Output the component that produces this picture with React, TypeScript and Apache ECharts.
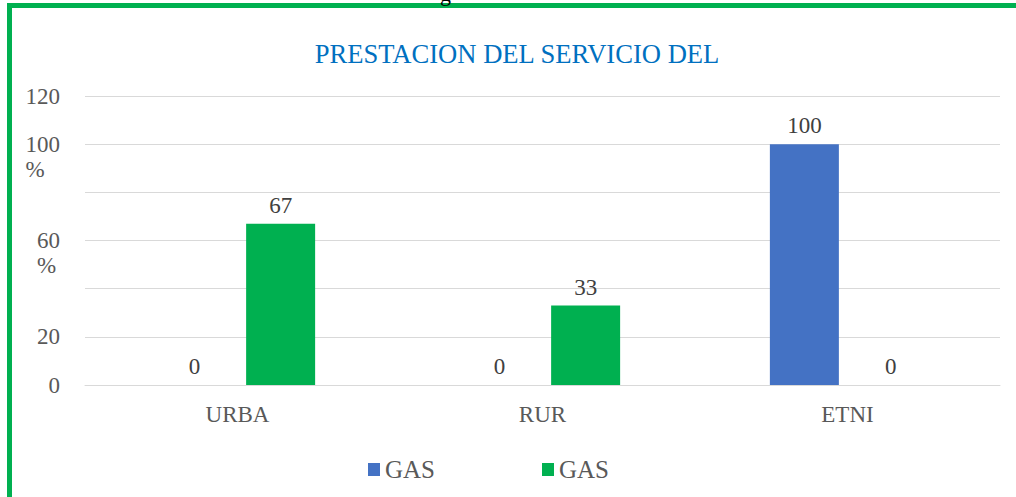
import React, { useEffect, useRef } from "react";
import * as echarts from "echarts";

const categories = ["URBA", "RUR", "ETNI"];
const blueSeriesName = "GAS";
const greenSeriesName = "GAS";
const blueValues = [0, 0, 100];
const greenValues = [67, 33, 0];
const yTickLabels: Record<number, string> = {
  120: "120",
  100: "100\n%",
  80: "",
  60: "60\n%",
  40: "",
  20: "20",
  0: "0",
};
const titleText = "PRESTACION DEL SERVICIO DEL";

const FONT = "Liberation Serif, serif";

export default function App() {
  const ref = useRef<HTMLDivElement>(null);
  useEffect(() => {
    if (!ref.current) return;
    const chart = echarts.init(ref.current, undefined, { renderer: "svg" });
    const legendNames: Record<string, string> = {
      s1: blueSeriesName,
      s2: greenSeriesName,
    };
    chart.setOption({
      animation: false,
      backgroundColor: "#ffffff",
      title: {
        text: titleText,
        left: 512,
        top: 35,
        textAlign: "center",
        textStyle: {
          fontFamily: FONT,
          fontSize: 26.6,
          fontWeight: "normal",
          color: "#0070C0",
        },
      },
      legend: {
        left: 363,
        top: 452,
        itemWidth: 12,
        itemHeight: 13,
        itemGap: 107,
        icon: "rect",
        data: ["s1", "s2"],
        formatter: (n: string) => legendNames[n],
        textStyle: { fontFamily: FONT, fontSize: 25, color: "#595959" },
      },
      grid: { left: 85, right: 16, top: 96, bottom: 112 },
      xAxis: {
        type: "category",
        data: categories,
        axisLine: { lineStyle: { color: "#d9d9d9", width: 1 } },
        axisTick: { show: false },
        axisLabel: {
          margin: 18,
          fontFamily: FONT,
          fontSize: 23,
          color: "#595959",
        },
      },
      yAxis: {
        type: "value",
        min: 0,
        max: 120,
        interval: 20,
        axisLine: { show: false },
        axisTick: { show: false },
        splitLine: { lineStyle: { color: "#d9d9d9", width: 1 } },
        axisLabel: {
          margin: 25,
          align: "right",
          fontFamily: FONT,
          fontSize: 23,
          color: "#595959",
          formatter: (v: number) => {
            const t = yTickLabels[v] ?? "";
            if (!t) return "";
            const parts = t.split("\n");
            if (parts.length === 1) return `{n|${parts[0]}}`;
            return `{e| }\n{n|${parts[0]}}\n{p|${parts[1]}}`;
          },
          rich: {
            e: { fontFamily: FONT, fontSize: 23, lineHeight: 25, color: "#595959" },
            n: { fontFamily: FONT, fontSize: 23, lineHeight: 25, color: "#595959" },
            p: { fontFamily: FONT, fontSize: 23, lineHeight: 25, color: "#595959", align: "left" },
          },
        },
      },
      series: [
        {
          name: "s1",
          type: "bar",
          data: blueValues,
          barWidth: 69,
          barGap: "25%",
          itemStyle: { color: "#4472C4" },
          label: {
            show: true,
            position: "top",
            distance: 7,
            fontFamily: FONT,
            fontSize: 23,
            color: "#404040",
          },
        },
        {
          name: "s2",
          type: "bar",
          data: greenValues,
          barWidth: 69,
          barGap: "25%",
          itemStyle: { color: "#00B050" },
          label: {
            show: true,
            position: "top",
            distance: 7,
            fontFamily: FONT,
            fontSize: 23,
            color: "#404040",
          },
        },
      ],
      graphic: [
        { type: "rect", shape: { x: 7, y: 3, width: 1009, height: 5 }, style: { fill: "#00B050" }, silent: true },
        { type: "rect", shape: { x: 7, y: 3, width: 5, height: 494 }, style: { fill: "#00B050" }, silent: true },
        {
          type: "text",
          x: 440,
          y: -18,
          style: { text: "g", font: "22px Liberation Serif, serif", fill: "#000000" },
          silent: true,
        },
      ],
    });
    return () => chart.dispose();
  }, []);
  return (
    <div
      ref={ref}
      style={{ position: "fixed", left: 0, top: 0, width: 1016, height: 497 }}
    />
  );
}
